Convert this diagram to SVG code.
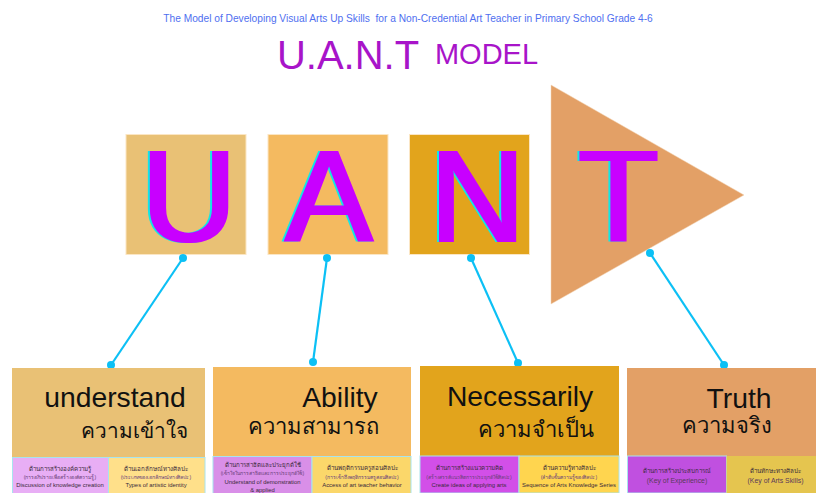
<svg xmlns="http://www.w3.org/2000/svg" width="816" height="493" viewBox="0 0 816 493">
<style>
text{font-family:"Liberation Sans","Noto Sans",sans-serif;text-anchor:middle}
.letter{font-size:131px;fill:#c800ff;filter:url(#smear)}
.box{stroke:#fbe6c4;stroke-width:1}
.sub{stroke:#a8e4ee;stroke-width:1}
.en{font-size:28.300px;fill:#111}
.th{font-size:22px;fill:#111}
.t1{font-size:6.200px;fill:#3a2a3a}
.t2{font-size:5.100px;fill:#6a3f7a}
.t3{font-size:5.900px;fill:#3a2a3a}
.t4{font-size:6.900px;fill:#5a3a5a}
.cn{stroke:#0cc0f5;stroke-width:2.200;fill:none}
.dot{fill:#0cc0f5}
</style>
<defs>
<filter id="smear" x="-20%" y="-20%" width="140%" height="140%" color-interpolation-filters="sRGB">
<feMorphology in="SourceGraphic" operator="dilate" radius="2.200 0" result="m"/>
<feFlood flood-color="#12e6e6" result="c"/>
<feComposite in="c" in2="m" operator="in" result="cm"/>
<feOffset in="cm" dx="-2" dy="0" result="shadow"/>
<feMerge><feMergeNode in="shadow"/><feMergeNode in="m"/></feMerge>
</filter>
</defs>
<rect width="816" height="493" fill="#fff"/>
<g id="title">
<text x="408" y="21.500" font-size="10.200" fill="#4f6ff0" xml:space="preserve">The Model of Developing Visual Arts Up Skills  for a Non-Credential Art Teacher in Primary School Grade 4-6</text>
<text x="348" y="69" font-size="40" fill="#a814c9">U.A.N.T</text>
<text x="486.500" y="64" font-size="29" fill="#a814c9">MODEL</text>
</g>
<g id="node-u">
<rect class="box" x="126" y="134.500" width="120" height="120" fill="#e9c175"/>
<text class="letter" x="189" y="242">U</text>
</g>
<g id="node-a">
<rect class="box" x="268" y="134.500" width="120" height="120" fill="#f4ba60"/>
<text class="letter" x="329" y="242">A</text>
</g>
<g id="node-n">
<rect class="box" x="409.500" y="134.500" width="120" height="120" fill="#e2a41c"/>
<text class="letter" x="477.500" y="242">N</text>
</g>
<g id="node-t">
<polygon points="551,85 744,195 551,304" fill="#e3a066" stroke="#f3d5b5" stroke-width="0.500"/>
<text class="letter" x="618.500" y="242">T</text>
</g>
<g id="connectors">
<line class="cn" x1="183" y1="258" x2="111" y2="365"/><circle class="dot" cx="183" cy="258" r="4"/><circle class="dot" cx="111" cy="365" r="4"/>
<line class="cn" x1="327" y1="258" x2="313" y2="362"/><circle class="dot" cx="327" cy="258" r="4"/><circle class="dot" cx="313" cy="362" r="4"/>
<line class="cn" x1="471" y1="258" x2="518" y2="363"/><circle class="dot" cx="471" cy="258" r="4"/><circle class="dot" cx="518" cy="363" r="4"/>
<line class="cn" x1="650" y1="253" x2="724" y2="365"/><circle class="dot" cx="650" cy="253" r="4"/><circle class="dot" cx="724" cy="365" r="4"/>
</g>
<g id="panel-understand">
<rect x="12" y="368" width="193" height="89" fill="#e9c175"/>
<text class="en" x="115" y="407">understand</text>
<text class="th" x="134.500" y="438" style="font-size:20.800px">ความเข้าใจ</text>
</g>
<g id="panel-understand-1">
<rect class="sub" x="12.500" y="457.500" width="96" height="36" fill="#e8aef5"/>
<text class="t1" x="60" y="471">ด้านการสร้างองค์ความรู้</text>
<text class="t2" x="60" y="479">(การอภิปรายเพื่อสร้างองค์ความรู้)</text>
<text class="t3" x="60" y="487">Discussion of knowledge creation</text>
</g>
<g id="panel-understand-2">
<rect class="sub" x="108.500" y="457.500" width="96.500" height="36" fill="#ffe08a"/>
<text class="t1" x="156" y="471">ด้านเอกลักษณ์ทางศิลปะ</text>
<text class="t2" x="156" y="479">(ประเภทของเอกลักษณ์ทางศิลปะ)</text>
<text class="t3" x="156" y="487">Types of artistic identity</text>
</g>
<g id="panel-ability">
<rect x="213" y="367" width="198" height="89" fill="#f4ba60"/>
<text class="en" x="340" y="407">Ability</text>
<text class="th" x="313" y="434">ความสามารถ</text>
</g>
<g id="panel-ability-1">
<rect class="sub" x="213" y="456.500" width="99" height="37" fill="#d98fe8"/>
<text class="t1" x="262.500" y="467">ด้านการสาธิตและประยุกต์ใช้</text>
<text class="t2" x="262.500" y="475">(เข้าใจในการสาธิตและการประยุกต์ใช้)</text>
<text class="t3" x="262.500" y="484">Understand of demonstration</text>
<text class="t3" x="262.500" y="492">&amp; applied</text>
</g>
<g id="panel-ability-2">
<rect class="sub" x="312" y="456.500" width="99" height="37" fill="#fbd76a"/>
<text class="t1" x="362" y="470">ด้านพฤติกรรมครูสอนศิลปะ</text>
<text class="t2" x="362" y="479">(การเข้าถึงพฤติกรรมครูสอนศิลปะ)</text>
<text class="t3" x="362" y="487">Access of art teacher behavior</text>
</g>
<g id="panel-necessarily">
<rect x="420" y="366" width="199" height="90" fill="#e2a41c"/>
<text class="en" x="520" y="406">Necessarily</text>
<text class="th" x="536" y="437">ความจำเป็น</text>
</g>
<g id="panel-necessarily-1">
<rect class="sub" x="420" y="456" width="99" height="37" fill="#d24fe8"/>
<text class="t1" x="469" y="470">ด้านการสร้างแนวความคิด</text>
<text class="t2" x="469" y="479">(สร้างสรรค์แนวคิดการประยุกต์ใช้ศิลปะ)</text>
<text class="t3" x="469" y="487">Create ideas of applying arts</text>
</g>
<g id="panel-necessarily-2">
<rect class="sub" x="519" y="456" width="100" height="37" fill="#ffd54f"/>
<text class="t1" x="569" y="470">ด้านความรู้ทางศิลปะ</text>
<text class="t2" x="569" y="479">(ลำดับขั้นความรู้ของศิลปะ)</text>
<text class="t3" x="569" y="487">Sequence of Arts Knowledge Series</text>
</g>
<g id="panel-truth">
<rect x="627" y="368" width="189" height="88" fill="#e3a066"/>
<text class="en" x="739" y="408">Truth</text>
<text class="th" x="726.500" y="433">ความจริง</text>
</g>
<g id="panel-truth-1">
<rect class="sub" x="627.500" y="456" width="99" height="37" fill="#c050e0"/>
<text class="t1" x="677" y="473">ด้านการสร้างประสบการณ์</text>
<text class="t4" x="677" y="483">(Key of Experience)</text>
</g>
<g id="panel-truth-2">
<rect x="726.500" y="456" width="90" height="37" fill="#e5c54f"/>
<text class="t1" x="775.500" y="473">ด้านทักษะทางศิลปะ</text>
<text class="t4" x="775.500" y="483">(Key of Arts Skills)</text>
</g>
</svg>
